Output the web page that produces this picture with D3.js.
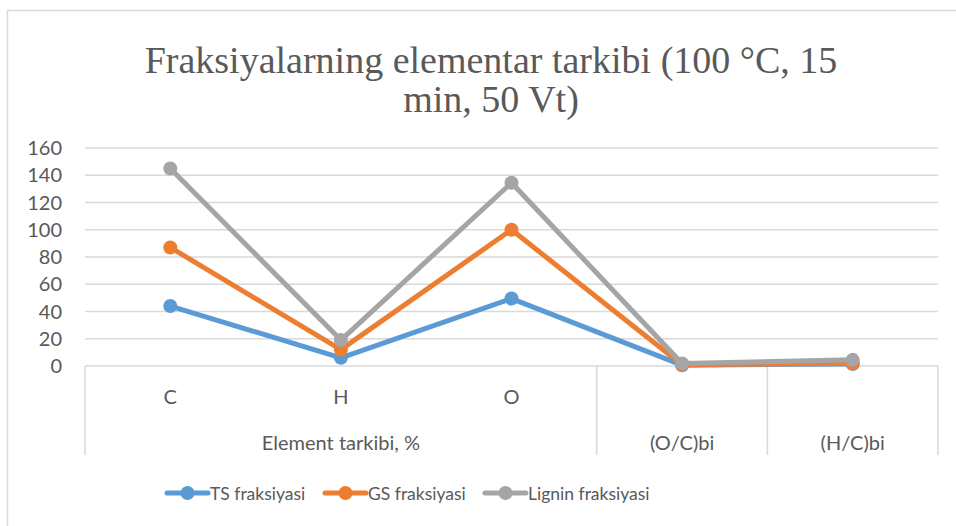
<!DOCTYPE html>
<meta charset="utf-8">
<script src="https://d3js.org/d3.v7.min.js"></script>
<style>
  body { margin: 0; background: #fff; }
</style>
<div id="chart"></div>
<script>

// data
var categories = ["C", "H", "O", "(O/C)bi", "(H/C)bi"];
var groupLabels = [
  {label: "Element tarkibi, %", from: 0, to: 2},
  {label: "(O/C)bi", from: 3, to: 3},
  {label: "(H/C)bi", from: 4, to: 4}
];
var tsValues = [44, 6, 49.5, 0.6, 1.5];
var gsValues = [87, 12, 100, 0.9, 2];
var ligninValues = [145, 19, 134.5, 1.8, 4.5];
var seriesNames = ["TS fraksiyasi", "GS fraksiyasi", "Lignin fraksiyasi"];
var yTicks = [0, 20, 40, 60, 80, 100, 120, 140, 160];

var series = [
  {name: seriesNames[0], values: tsValues, color: "#5B9BD5"},
  {name: seriesNames[1], values: gsValues, color: "#ED7D31"},
  {name: seriesNames[2], values: ligninValues, color: "#A5A5A5"}
];

var W = 956, H = 526;
var plot = {left: 85, right: 938, top: 148, bottom: 366};
var sans = "Lato, Open Sans, sans-serif";
var fontSize = 20;

var svg = d3.select("#chart").append("svg")
  .attr("width", W)
  .attr("height", H);

// chart frame
svg.append("rect")
  .attr("x", 7.5).attr("y", 10.5)
  .attr("width", 980).attr("height", 540)
  .style("fill", "#fff")
  .style("stroke", "#D9D9D9")
  .style("stroke-width", 1.5);

// title
var title = svg.append("text")
  .attr("text-anchor", "middle")
  .attr("font-family", "Liberation Serif, Times New Roman, serif")
  .attr("font-size", 38)
  .style("fill", "#595959");
title.append("tspan").attr("x", 491).attr("y", 73).text("Fraksiyalarning elementar tarkibi (100 °C, 15");
title.append("tspan").attr("x", 491).attr("y", 112).text("min, 50 Vt)");

var x = d3.scalePoint()
  .domain(categories)
  .range([plot.left, plot.right])
  .padding(0.5);

var y = d3.scaleLinear()
  .domain([0, 160])
  .range([plot.bottom, plot.top]);

// gridlines
svg.append("g")
  .selectAll("line")
  .data(yTicks.filter(function(d) { return d > 0; }))
  .enter()
  .append("line")
  .attr("x1", plot.left).attr("x2", plot.right)
  .attr("y1", function(d) { return y(d); })
  .attr("y2", function(d) { return y(d); })
  .style("stroke", "#D9D9D9")
  .style("stroke-width", 1.5);

// y axis labels
svg.append("g")
  .selectAll("text")
  .data(yTicks)
  .enter()
  .append("text")
  .attr("x", 62)
  .attr("y", function(d) { return y(d) + 7; })
  .attr("text-anchor", "end")
  .attr("font-family", sans)
  .attr("font-size", fontSize)
  .style("fill", "#595959")
  .text(function(d) { return d; });

// multi-level category axis
var step = x.step();
var axisBottom = 455;
var axisG = svg.append("g");
axisG.append("line")
  .attr("x1", plot.left).attr("x2", plot.right)
  .attr("y1", plot.bottom).attr("y2", plot.bottom)
  .style("stroke", "#D9D9D9").style("stroke-width", 1.5);

var bounds = [0, 3, 4, 5];
axisG.selectAll(".sep")
  .data(bounds)
  .enter()
  .append("line")
  .attr("x1", function(i) { return plot.left + i * step; })
  .attr("x2", function(i) { return plot.left + i * step; })
  .attr("y1", plot.bottom)
  .attr("y2", axisBottom)
  .style("stroke", "#D9D9D9").style("stroke-width", 1.5);

axisG.selectAll(".cat")
  .data(categories.slice(0, 3))
  .enter()
  .append("text")
  .attr("x", function(d) { return x(d); })
  .attr("y", 404)
  .attr("text-anchor", "middle")
  .attr("font-family", sans)
  .attr("font-size", fontSize)
  .style("fill", "#595959")
  .text(function(d) { return d; });

axisG.selectAll(".grp")
  .data(groupLabels)
  .enter()
  .append("text")
  .attr("x", function(d) { return (x(categories[d.from]) + x(categories[d.to])) / 2; })
  .attr("y", 450)
  .attr("text-anchor", "middle")
  .attr("font-family", sans)
  .attr("font-size", fontSize)
  .style("fill", "#595959")
  .text(function(d) { return d.label; });

// lines and markers
var line = d3.line()
  .x(function(d, i) { return x(categories[i]); })
  .y(function(d) { return y(d); });

series.forEach(function(s) {
  svg.append("path")
    .datum(s.values)
    .attr("d", line)
    .style("fill", "none")
    .style("stroke", s.color)
    .style("stroke-width", 5)
    .style("stroke-linejoin", "round");
  svg.append("g")
    .selectAll("circle")
    .data(s.values)
    .enter()
    .append("circle")
    .attr("cx", function(d, i) { return x(categories[i]); })
    .attr("cy", function(d) { return y(d); })
    .attr("r", 7)
    .style("fill", s.color);
});

// legend
var legendX = [167, 325, 485];
var legend = svg.append("g")
  .selectAll("g")
  .data(series)
  .enter()
  .append("g")
  .attr("transform", function(d, i) { return "translate(" + legendX[i] + ",493)"; });
legend.append("line")
  .attr("x1", 0).attr("x2", 41)
  .attr("y1", 0).attr("y2", 0)
  .style("stroke", function(d) { return d.color; })
  .style("stroke-width", 5)
  .style("stroke-linecap", "round");
legend.append("circle")
  .attr("cx", 20.5).attr("cy", 0).attr("r", 7)
  .style("fill", function(d) { return d.color; });
legend.append("text")
  .attr("x", 43).attr("y", 7)
  .attr("font-family", sans)
  .attr("font-size", 17.5)
  .style("fill", "#595959")
  .text(function(d) { return d.name; });

</script>
